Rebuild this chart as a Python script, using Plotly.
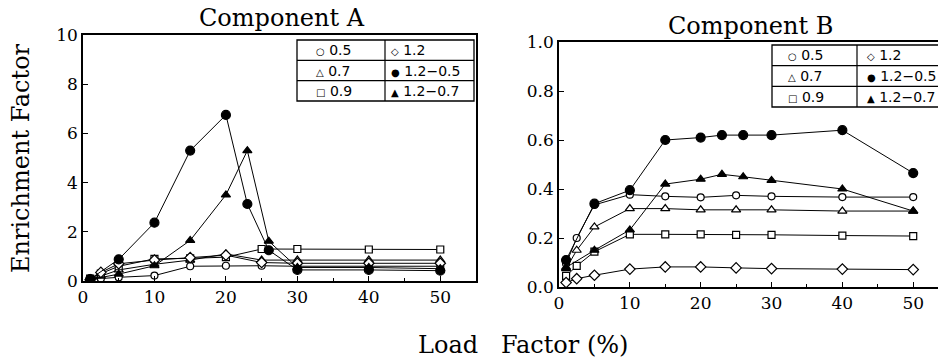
import plotly.graph_objects as go

# ---------------- data ----------------
x_open = [1, 2.5, 5, 10, 15, 20, 25, 30, 40, 50]
x_mix = [1, 5, 10, 15, 20, 23, 26, 30, 40, 50]

# Component A
a_05 = [0.05, 0.10, 0.15, 0.22, 0.60, 0.62, 0.62, 0.60, 0.60, 0.60]
a_07 = [0.08, 0.20, 0.45, 0.68, 0.85, 1.10, 0.85, 0.85, 0.85, 0.85]
a_09 = [0.10, 0.30, 0.60, 0.90, 0.92, 0.97, 1.30, 1.30, 1.28, 1.28]
a_12 = [0.05, 0.35, 0.70, 0.85, 0.95, 1.05, 0.75, 0.72, 0.72, 0.72]
a_12_05 = [0.08, 0.88, 2.37, 5.30, 6.75, 3.13, 1.25, 0.45, 0.45, 0.42]
a_12_07 = [0.06, 0.28, 0.62, 1.65, 3.50, 5.30, 1.62, 0.55, 0.55, 0.50]

# Component B
b_05 = [0.095, 0.20, 0.335, 0.377, 0.370, 0.366, 0.374, 0.370, 0.367, 0.367]
b_07 = [0.075, 0.15, 0.245, 0.320, 0.320, 0.315, 0.315, 0.315, 0.310, 0.310]
b_09 = [0.045, 0.086, 0.144, 0.215, 0.215, 0.215, 0.213, 0.213, 0.210, 0.208]
b_12 = [0.018, 0.034, 0.048, 0.073, 0.082, 0.082, 0.078, 0.075, 0.073, 0.071]
b_12_05 = [0.11, 0.34, 0.395, 0.600, 0.610, 0.620, 0.620, 0.620, 0.640, 0.465]
b_12_07 = [0.08, 0.15, 0.233, 0.420, 0.440, 0.460, 0.450, 0.435, 0.400, 0.310]

series_names = ["0.5", "0.7", "0.9", "1.2", "1.2\u22120.5", "1.2\u22120.7"]
symbols = ["circle", "triangle-up", "square", "diamond", "circle", "triangle-up"]
filled = [False, False, False, False, True, True]
sizes = [7, 8, 7, 8, 9, 8]
legend_glyphs = ["\u25cb", "\u25b3", "\u25a1", "\u25c7", "\u25cf", "\u25b2"]

x_ticks = [0, 10, 20, 30, 40, 50]
ya_ticks = [0, 2, 4, 6, 8, 10]
yb_ticks = [0.0, 0.2, 0.4, 0.6, 0.8, 1.0]

W, H = 938, 361


def px(v):
    return v / W


def py(v):
    return 1 - v / H


fig = go.Figure()

panels = [
    ("x", "y", [x_open, x_open, x_open, x_open, x_mix, x_mix],
     [a_05, a_07, a_09, a_12, a_12_05, a_12_07]),
    ("x2", "y2", [x_open, x_open, x_open, x_open, x_mix, x_mix],
     [b_05, b_07, b_09, b_12, b_12_05, b_12_07]),
]

for xa, ya, xs, ys in panels:
    for i in range(6):
        fig.add_trace(go.Scatter(
            x=xs[i], y=ys[i], xaxis=xa, yaxis=ya,
            mode="lines+markers", name=series_names[i], showlegend=False,
            line=dict(color="black", width=1),
            marker=dict(symbol=symbols[i], size=sizes[i],
                        color="black" if filled[i] else "white",
                        line=dict(color="black", width=1.2)),
        ))

tick_font = dict(family="DejaVu Serif", size=17, color="black")
axis_common = dict(showgrid=False, zeroline=False, showline=True, linecolor="black",
                   linewidth=1.5, ticks="inside", ticklen=5, tickcolor="black",
                   tickfont=tick_font, automargin=False)

fig.update_layout(
    width=W, height=H,
    margin=dict(l=0, r=0, t=0, b=0, pad=0, autoexpand=False),
    paper_bgcolor="white", plot_bgcolor="white",
    xaxis=dict(domain=[px(83), px(476)], range=[0, 55], tickvals=x_ticks,
               mirror=True, anchor="y",
               minor=dict(dtick=5, ticklen=3, ticks="inside", tickcolor="black"),
               **axis_common),
    yaxis=dict(domain=[py(281), py(35)], range=[0, 10], tickvals=ya_ticks,
               mirror=True, anchor="x", **axis_common),
    xaxis2=dict(domain=[px(559), 1.0], range=[0, 53.5], tickvals=x_ticks,
                mirror=True, anchor="y2",
                minor=dict(dtick=5, ticklen=3, ticks="inside", tickcolor="black"),
                **axis_common),
    yaxis2=dict(domain=[py(287), py(42)], range=[0, 1], tickvals=yb_ticks,
                tickformat=".1f", mirror=False, anchor="x2", **axis_common),
)

annotations = []
shapes = []

# titles
title_font = dict(family="DejaVu Serif", size=24, color="black")
annotations.append(dict(text="Component A", x=px(282), y=py(18), xref="paper", yref="paper",
                        showarrow=False, font=title_font, xanchor="center", yanchor="middle"))
annotations.append(dict(text="Component B", x=px(750), y=py(26), xref="paper", yref="paper",
                        showarrow=False, font=title_font, xanchor="center", yanchor="middle"))
annotations.append(dict(text="Enrichment Factor", x=px(21), y=py(158), xref="paper", yref="paper",
                        showarrow=False, font=title_font, textangle=-90,
                        xanchor="center", yanchor="middle"))
annotations.append(dict(text="Load\u00a0\u00a0\u00a0Factor (%)", x=px(523), y=py(345),
                        xref="paper", yref="paper", showarrow=False, font=title_font,
                        xanchor="center", yanchor="middle"))

# boxed legend tables
legend_font = dict(family="DejaVu Sans", size=14, color="black")
tables = [
    # left, right, top, bottom, column divider, left-col text x, right-col text x
    (297, 474, 40, 101, 385, 314, 389),
    (772, 950, 45, 107, 857, 786, 865),
]
for (l, r, t, b, d, lx, rx) in tables:
    row_h = (b - t) / 3
    shapes.append(dict(type="rect", xref="paper", yref="paper",
                       x0=px(l), x1=px(r), y0=py(b), y1=py(t),
                       line=dict(color="black", width=1.3), fillcolor="white", layer="above"))
    shapes.append(dict(type="line", xref="paper", yref="paper",
                       x0=px(d), x1=px(d), y0=py(b), y1=py(t),
                       line=dict(color="black", width=1.2), layer="above"))
    for k in (1, 2):
        yy = t + k * row_h
        shapes.append(dict(type="line", xref="paper", yref="paper",
                           x0=px(l), x1=px(r), y0=py(yy), y1=py(yy),
                           line=dict(color="black", width=1.2), layer="above"))
    for k in range(3):
        yc = t + (k + 0.5) * row_h
        for col, tx in ((0, lx), (1, rx)):
            idx = k if col == 0 else k + 3
            annotations.append(dict(
                text=f"<span style=\"font-size:10px\">{legend_glyphs[idx]}</span> {series_names[idx]}",
                x=px(tx), y=py(yc), xref="paper", yref="paper", showarrow=False,
                font=legend_font, xanchor="left", yanchor="middle"))

fig.update_layout(annotations=annotations, shapes=shapes)

fig.write_html("out.html")
